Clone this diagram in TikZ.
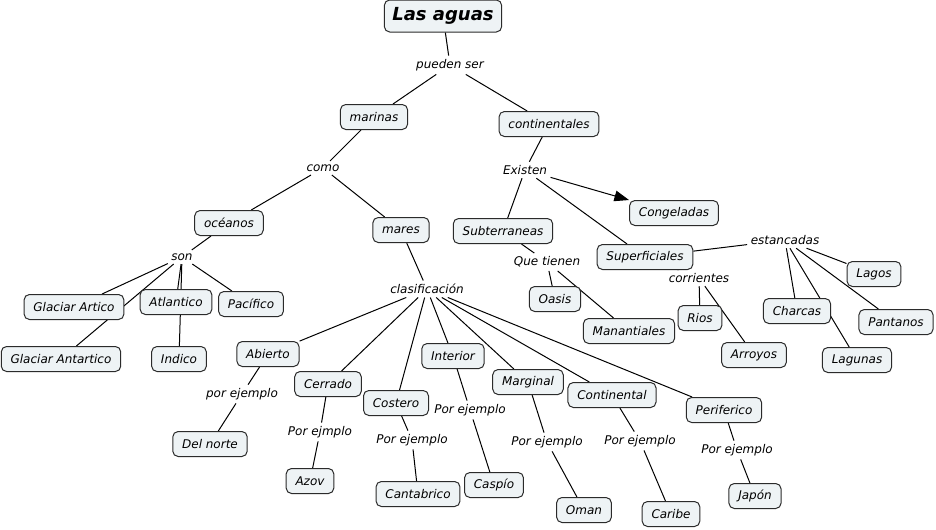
\documentclass[tikz,border=0pt]{standalone}
\usepackage{fontspec}
\setmainfont{DejaVu Sans}
\usetikzlibrary{arrows.meta,backgrounds}
\definecolor{cfill}{HTML}{EEF3F5}
\definecolor{cline}{HTML}{2B2B2B}
\tikzset{
	concept/.style={draw=cline,fill=cfill,rounded corners=4pt,line width=0.75pt,
		minimum height=18.75pt,inner xsep=7pt,inner ysep=2pt,font=\fontsize{9pt}{11pt}\selectfont\itshape},
	title/.style={concept,minimum height=24pt,inner xsep=6pt,font=\fontsize{13.5pt}{16pt}\selectfont\bfseries\itshape},
	linkword/.style={inner sep=2.5pt,font=\fontsize{9pt}{11pt}\selectfont\itshape},
	link/.style={draw=black,line width=0.75pt}
}
\begin{document}
\begin{tikzpicture}[x=0.75pt,y=-0.75pt]
			\useasboundingbox (0,0) rectangle (936,529);
			\node (aguas) at (443,16) [title] {Las aguas};
			\node (pueden) at (450,65) [linkword] {pueden ser};
			\node (marinas) at (374,117) [concept] {marinas};
			\node (contin) at (549,124) [concept] {continentales};
			\node (como) at (323,168) [linkword] {como};
			\node (existen) at (525,170) [linkword] {Existen};
			\node (oceanos) at (229,223) [concept] {océanos};
			\node (mares) at (401,230) [concept] {mares};
			\node (congel) at (674,213) [concept] {Congeladas};
			\node (subter) at (503,231) [concept] {Subterraneas};
			\node (superf) at (645,257) [concept] {Superficiales};
			\node (estanc) at (785,240) [linkword] {estancadas};
			\node (son) at (182,257) [linkword] {son};
			\node (quetien) at (547,262) [linkword] {Que tienen};
			\node (clasif) at (427,289) [linkword] {clasificación};
			\node (corrien) at (699,278) [linkword] {corrientes};
			
			\node (lagos) at (874,274) [concept] {Lagos};
			\node (gartico) at (74,307) [concept] {Glaciar Artico};
			\node (atlant) at (176,302) [concept] {Atlantico};
			\node (pacif) at (251,304) [concept] {Pacífico};
			\node (oasis) at (555,299) [concept] {Oasis};
			\node (manant) at (629,331) [concept] {Manantiales};
			\node (rios) at (700,318) [concept] {Rios};
			\node (charcas) at (797,311) [concept] {Charcas};
			\node (pantanos) at (896,322) [concept] {Pantanos};
			\node (gantart) at (61,359) [concept] {Glaciar Antartico};
			\node (indico) at (179,359) [concept] {Indico};
			\node (arroyos) at (754,355) [concept] {Arroyos};
			\node (lagunas) at (857,360) [concept] {Lagunas};
			
			\node (abierto) at (268,354) [concept] {Abierto};
			\node (interior) at (453,356) [concept] {Interior};
			\node (cerrado) at (328,384) [concept] {Cerrado};
			\node (costero) at (396,403) [concept] {Costero};
			\node (marginal) at (528,382) [concept] {Marginal};
			\node (continen) at (612,395) [concept] {Continental};
			\node (perif) at (724,410) [concept] {Periferico};
			
			\node (ejabierto) at (242,394) [linkword] {por ejemplo};
			\node (ejcerrado) at (320,432) [linkword] {Por ejmplo};
			\node (ejcostero) at (412,440) [linkword] {Por ejemplo};
			\node (ejinterior) at (470,410) [linkword] {Por ejemplo};
			\node (ejmarginal) at (547,442) [linkword] {Por ejemplo};
			\node (ejcontin) at (640,441) [linkword] {Por ejemplo};
			\node (ejperif) at (737,450) [linkword] {Por ejemplo};
			
			\node (delnorte) at (210,444) [concept] {Del norte};
			\node (azov) at (310,481) [concept] {Azov};
			\node (cantab) at (418,494) [concept] {Cantabrico};
			\node (caspio) at (494,485) [concept] {Caspío};
			\node (oman) at (584,510) [concept] {Oman};
			\node (caribe) at (671,514) [concept] {Caribe};
			\node (japon) at (755,496) [concept] {Japón};
			
			\begin{pgfonlayer}{background}
			\draw[link] (aguas) -- (pueden);
			\draw[link] (pueden) -- (marinas);
			\draw[link] (pueden) -- (contin);
			\draw[link] (marinas) -- (como);
			\draw[link] (como) -- (oceanos);
			\draw[link] (como) -- (mares);
			\draw[link] (contin) -- (existen);
			\draw[link] (existen) -- (subter);
			\draw[link] (existen) -- (superf);
			\draw[link,-{Triangle[length=11pt,width=8pt]}] (existen) -- (congel);
			
			\draw[link] (oceanos) -- (son);
			\draw[link] (son) -- (gartico);
			\draw[link] (son) -- (gantart);
			\draw[link] (son) -- (atlant);
			\draw[link] (son) -- (indico);
			\draw[link] (son) -- (pacif);
			
			\draw[link] (subter) -- (quetien);
			\draw[link] (quetien) -- (oasis);
			\draw[link] (quetien) -- (manant);
			
			\draw[link] (superf) -- (estanc);
			\draw[link] (estanc) -- (lagos);
			\draw[link] (estanc) -- (charcas);
			\draw[link] (estanc) -- (lagunas);
			\draw[link] (estanc) -- (pantanos);
			\draw[link] (superf) -- (corrien);
			\draw[link] (corrien) -- (rios);
			\draw[link] (corrien) -- (arroyos);
			
			\draw[link] (mares) -- (clasif);
			\draw[link] (clasif) -- (abierto);
			\draw[link] (clasif) -- (cerrado);
			\draw[link] (clasif) -- (costero);
			\draw[link] (clasif) -- (interior);
			\draw[link] (clasif) -- (marginal);
			\draw[link] (clasif) -- (continen);
			\draw[link] (clasif) -- (perif);
			
			\draw[link] (abierto) -- (ejabierto) -- (delnorte);
			\draw[link] (cerrado) -- (ejcerrado) -- (azov);
			\draw[link] (costero) -- (ejcostero) -- (cantab);
			\draw[link] (interior) -- (ejinterior) -- (caspio);
			\draw[link] (marginal) -- (ejmarginal) -- (oman);
			\draw[link] (continen) -- (ejcontin) -- (caribe);
			\draw[link] (perif) -- (ejperif) -- (japon);
			\end{pgfonlayer}
		\end{tikzpicture}
\end{document}
